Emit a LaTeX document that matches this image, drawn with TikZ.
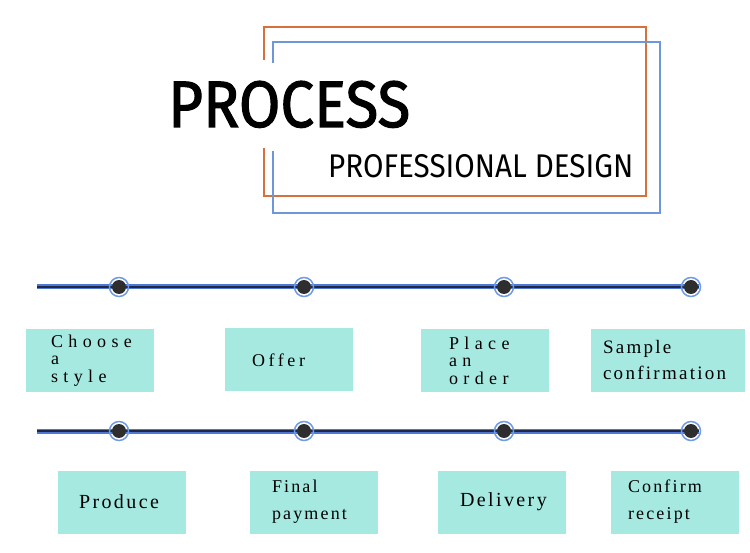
\documentclass[tikz,border=0pt]{standalone}
\usepackage{fontspec}
\setmainfont{Liberation Serif}
\newfontfamily\headfont{Fira Sans}
\newfontfamily\heavyheadfont[FakeBold=1.8]{Fira Sans}
\newfontfamily\cardfont[LetterSpace=12]{Liberation Serif}
\newfontfamily\midfont[LetterSpace=20]{Liberation Serif}
\newfontfamily\widefont[LetterSpace=30]{Liberation Serif}
\usetikzlibrary{positioning}

\definecolor{frameorange}{RGB}{214,112,60}
\definecolor{frameblue}{RGB}{110,151,218}
\definecolor{cardteal}{RGB}{166,233,225}
\definecolor{ringblue}{RGB}{111,155,230}
\definecolor{trackblue}{RGB}{78,120,212}
\definecolor{trackcore}{RGB}{30,40,72}
\definecolor{knobgray}{RGB}{46,46,46}

\begin{document}
\begin{tikzpicture}[
    x=1pt, y=-1pt,
    card/.style={fill=cardteal, minimum height=63pt, inner ysep=0pt, align=left},
    stop/.style={circle, draw=ringblue, line width=1.5pt, minimum size=19pt,
                 inner sep=0pt,
                 path picture={\fill[knobgray] (path picture bounding box.center) circle (7pt);}},
    track/.style={draw=trackblue, line width=5pt,
                  postaction={draw=trackcore, line width=2.4pt}}]
\useasboundingbox (0,0) rectangle (750,553);

\draw[frameorange, line width=2pt]
        (264,60) -- (264,27) -- (646,27) -- (646,196) -- (264,196) -- (264,148);
\draw[frameblue, line width=2pt]
        (273,63) -- (273,42) -- (660,42) -- (660,213) -- (273,213) -- (273,151);
\node (title) [anchor=base west, inner sep=0pt]
        at (168,127) {\resizebox{242pt}{46pt}{\heavyheadfont PROCESS}};
\node (subtitle) [anchor=base west, inner sep=0pt]
        at (328,178) {\resizebox{305pt}{23pt}{\headfont PROFESSIONAL DESIGN}};

\coordinate (r1w) at (37,287);
\coordinate (r1e) at (699,287);
\coordinate (r2w) at (37,431);
\coordinate (r2e) at (699,431);
\draw[track] (r1w) -- (r1e);
\draw[track] (r2w) -- (r2e);
\node (s1) [stop] at (119,287) {};
\node (s2) [stop] at (304,287) {};
\node (s3) [stop] at (504,287) {};
\node (s4) [stop] at (691,287) {};
\node (s5) [stop] at (119,431) {};
\node (s6) [stop] at (304,431) {};
\node (s7) [stop] at (504,431) {};
\node (s8) [stop] at (691,431) {};

\node (b1) [card, inner xsep=25pt, text width=78pt,
            font=\widefont\fontsize{18}{17.5}\selectfont]
        at (90,360.5) {Choose\\a\\style};
\node (b2) [card, inner xsep=27pt, text width=74pt,
            font=\midfont\fontsize{18}{22}\selectfont]
        at (289,360) {Offer};
\node (b3) [card, inner xsep=28pt, text width=72pt,
            font=\widefont\fontsize{18}{17.5}\selectfont]
        at (485,360.5) {Place\\an\\order};
\node (b4) [card, inner xsep=12pt, text width=130pt,
            font=\cardfont\fontsize{19}{26}\selectfont]
        at (668,360.5) {Sample\\confirmation};
\node (b5) [card, inner xsep=21pt, text width=86pt,
            font=\cardfont\fontsize{20}{24}\selectfont]
        at (122,502) {Produce};
\node (b6) [card, inner xsep=22pt, text width=84pt,
            font=\cardfont\fontsize{18}{27}\selectfont]
        at (314,502) {Final\\payment};
\node (b7) [card, inner xsep=22pt, text width=84pt,
            font=\cardfont\fontsize{20}{24}\selectfont]
        at (502,502) {Delivery};
\node (b8) [card, inner xsep=17pt, text width=94pt,
            font=\cardfont\fontsize{18}{27}\selectfont]
        at (675,502) {Confirm\\receipt};
\end{tikzpicture}
\end{document}
